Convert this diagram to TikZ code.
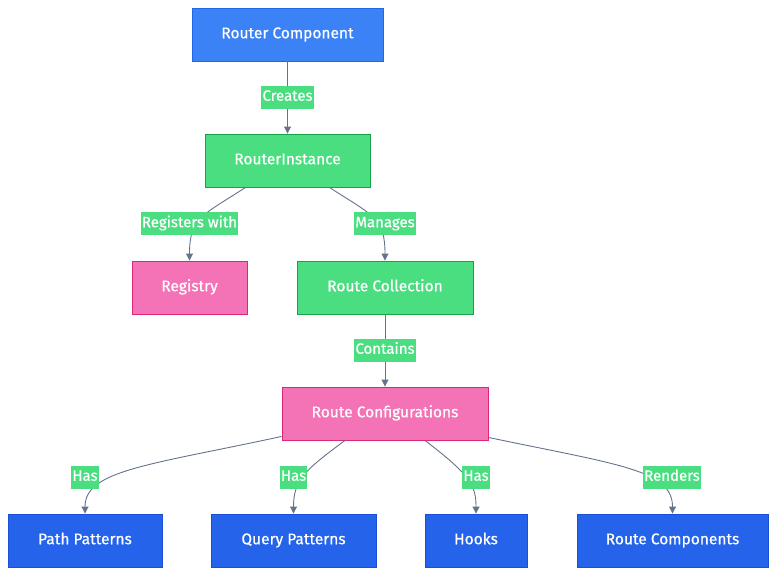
\documentclass[tikz,border=0pt]{standalone}
\usepackage{fontspec}
\setmainfont{Fira Sans}
\newfontfamily\medfont[FakeBold=0.6]{Fira Sans}
\usetikzlibrary{arrows.meta}
\definecolor{bluetop}{HTML}{3B82F6}
\definecolor{bluetopd}{HTML}{2563EB}
\definecolor{bluebot}{HTML}{2563EB}
\definecolor{bluebotd}{HTML}{1D4ED8}
\definecolor{greenf}{HTML}{4ADE80}
\definecolor{greend}{HTML}{16A34A}
\definecolor{pinkf}{HTML}{F472B6}
\definecolor{pinkd}{HTML}{DB2777}
\definecolor{edgec}{HTML}{64748B}
\tikzset{
  box/.style={draw, line width=0.9pt, minimum height=53pt, inner sep=0pt, text=white, text height=11pt, text depth=3.5pt, font=\medfont\fontsize{15.5}{17}\selectfont},
  bluetopbox/.style={box, fill=bluetop, draw=bluetopd},
  bluebotbox/.style={box, fill=bluebot, draw=bluebotd},
  greenbox/.style={box, fill=greenf, draw=greend},
  pinkbox/.style={box, fill=pinkf, draw=pinkd},
  lbl/.style={fill=greenf, text=white, inner xsep=1pt, inner ysep=0pt, minimum height=23pt, text height=11pt, text depth=3.5pt, font=\medfont\fontsize{15}{17}\selectfont},
  conn/.style={draw=edgec, line width=0.9pt, -{Triangle[length=7pt,width=7pt]}},
}
\begin{document}
\begin{tikzpicture}[x=1pt,y=-1pt]
\useasboundingbox[fill=white] (0,0) rectangle (784,582);
\node[bluetopbox, minimum width=191pt] (rc) at (287.5,34.5) {Router Component};
\node[greenbox, minimum width=165pt] (ri) at (287.5,160.5) {RouterInstance};
\node[pinkbox, minimum width=115pt] (reg) at (189.5,287.5) {Registry};
\node[greenbox, minimum width=176pt] (col) at (385,287.5) {Route Collection};
\node[pinkbox, minimum width=206pt] (cfg) at (385,413.5) {Route Configurations};
\node[bluebotbox, minimum width=154pt] (pp) at (85,540.5) {Path Patterns};
\node[bluebotbox, minimum width=165pt] (qp) at (293.5,540.5) {Query Patterns};
\node[bluebotbox, minimum width=102pt] (hk) at (476,540.5) {Hooks};
\node[bluebotbox, minimum width=191pt] (rcs) at (672.5,540.5) {Route Components};

\draw[conn] (rc.south) -- (ri.north);
\draw[conn] ([xshift=-42pt]ri.south) .. controls ([xshift=-85pt,yshift=-28pt]ri.south) and ([xshift=-98pt,yshift=-30pt]ri.south) .. (reg.north);
\draw[conn] ([xshift=42pt]ri.south) .. controls ([xshift=85pt,yshift=-28pt]ri.south) and ([xshift=97.5pt,yshift=-30pt]ri.south) .. (col.north);
\draw[conn] (col.south) -- (cfg.north);
\draw[conn] ([yshift=4pt]cfg.south west) .. controls (150,465) and (85,470) .. (pp.north);
\draw[conn] ([xshift=-40pt]cfg.south) .. controls (305,470) and (293.5,480) .. (qp.north);
\draw[conn] ([xshift=40pt]cfg.south) .. controls (470,475) and (476,485) .. (hk.north);
\draw[conn] ([yshift=3pt]cfg.south east) .. controls (620,465) and (672.5,470) .. (rcs.north);

\node[lbl] (l1) at (287.5,97) {Creates};
\node[lbl] (l2) at (189.5,223.5) {Registers with};
\node[lbl] (l3) at (385,223.5) {Manages};
\node[lbl] (l4) at (385,350) {Contains};
\node[lbl] (l5) at (85,477) {Has};
\node[lbl] (l6) at (293.5,477) {Has};
\node[lbl] (l7) at (476,477) {Has};
\node[lbl] (l8) at (672,477) {Renders};
\end{tikzpicture}
\end{document}
